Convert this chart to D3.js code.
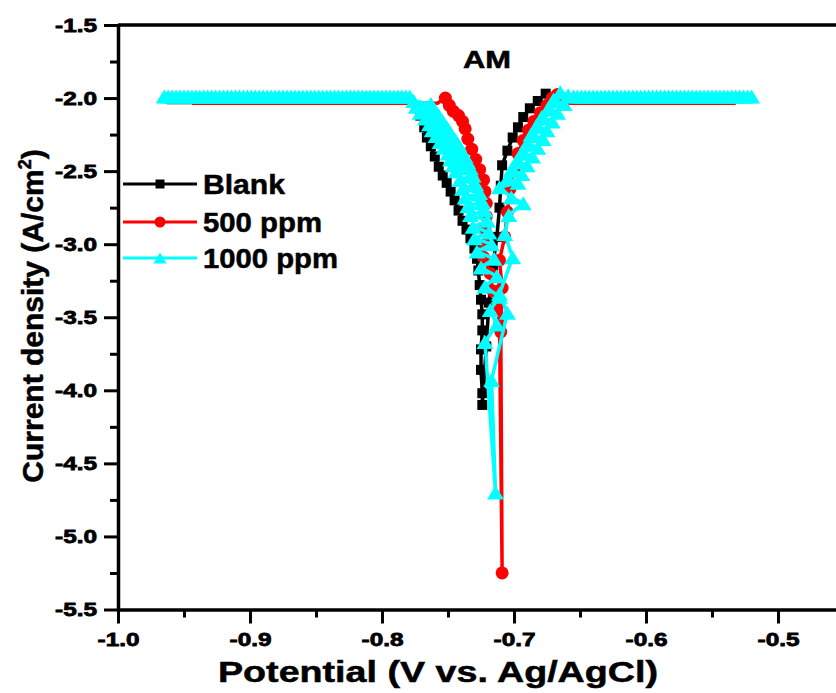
<!DOCTYPE html>
<html>
<head>
<meta charset="utf-8">
<script src="https://cdn.jsdelivr.net/npm/d3@7"></script>
<style>
  body { margin: 0; background: #fff; }
  text { font-family: "Liberation Sans", Arial, sans-serif; font-weight: bold; fill: #000; stroke: #000; stroke-width: 0.5px; }
  .axis text { stroke-width: 0.8px; }
</style>
</head>
<body>
<div id="container"></div>
<script>
// [potential (V vs. Ag/AgCl), log current density]
const blank = [
  [-0.963,-2.03],[-0.957,-2.03],[-0.951,-2.03],[-0.945,-2.03],[-0.939,-2.03],[-0.933,-2.03],[-0.927,-2.03],[-0.921,-2.03],
  [-0.915,-2.03],[-0.909,-2.03],[-0.903,-2.03],[-0.897,-2.03],[-0.891,-2.03],[-0.885,-2.03],[-0.879,-2.03],[-0.873,-2.03],
  [-0.867,-2.03],[-0.861,-2.03],[-0.855,-2.03],[-0.849,-2.03],[-0.843,-2.03],[-0.837,-2.03],[-0.831,-2.03],[-0.825,-2.03],
  [-0.819,-2.03],[-0.813,-2.03],[-0.807,-2.03],[-0.801,-2.03],[-0.795,-2.03],[-0.789,-2.03],[-0.783,-2.03],[-0.778,-2.03],
  [-0.774,-2.06],[-0.771,-2.12],[-0.768,-2.20],[-0.766,-2.27],[-0.763,-2.33],[-0.760,-2.40],[-0.757,-2.47],[-0.754,-2.53],
  [-0.751,-2.58],[-0.748,-2.64],[-0.745,-2.70],[-0.742,-2.77],[-0.739,-2.84],[-0.736,-2.90],[-0.733,-2.96],[-0.730,-3.03],
  [-0.728,-3.10],[-0.727,-3.18],[-0.726,-3.28],[-0.725,-3.38],[-0.724,-3.48],[-0.724,-3.59],[-0.725,-3.72],[-0.725,-3.86],
  [-0.724,-4.02],[-0.724,-4.10],[-0.721,-3.70],[-0.719,-3.40],[-0.716,-3.15],[-0.713,-2.95],[-0.711,-2.75],[-0.710,-2.60],
  [-0.709,-2.46],[-0.705,-2.36],[-0.701,-2.27],[-0.697,-2.20],[-0.693,-2.13],[-0.688,-2.07],[-0.682,-2.02],[-0.676,-1.97],
  [-0.671,-2.03],
  [-0.665,-2.03],[-0.659,-2.03],[-0.653,-2.03],[-0.647,-2.03],[-0.641,-2.03],[-0.635,-2.03],[-0.629,-2.03],[-0.623,-2.03],
  [-0.617,-2.03],[-0.611,-2.03],[-0.605,-2.03],[-0.599,-2.03],[-0.593,-2.03],[-0.587,-2.03],[-0.581,-2.03],[-0.575,-2.03],
  [-0.569,-2.03],[-0.563,-2.03],[-0.557,-2.03],[-0.551,-2.03],[-0.545,-2.03],[-0.539,-2.03],[-0.533,-2.03]
];

const ppm500 = [
  [-0.944,-2.035],[-0.938,-2.035],[-0.932,-2.035],[-0.926,-2.035],[-0.920,-2.035],[-0.914,-2.035],[-0.908,-2.035],[-0.902,-2.035],
  [-0.896,-2.035],[-0.890,-2.035],[-0.884,-2.035],[-0.878,-2.035],[-0.872,-2.035],[-0.866,-2.035],[-0.860,-2.035],[-0.854,-2.035],
  [-0.848,-2.035],[-0.842,-2.035],[-0.836,-2.035],[-0.830,-2.035],[-0.824,-2.035],[-0.818,-2.035],[-0.812,-2.035],[-0.806,-2.035],
  [-0.800,-2.035],[-0.794,-2.035],[-0.788,-2.035],[-0.782,-2.035],[-0.776,-2.035],[-0.770,-2.035],[-0.764,-2.035],[-0.758,-2.035],
  [-0.752,-2.00],[-0.749,-2.05],[-0.746,-2.09],[-0.742,-2.12],[-0.739,-2.16],[-0.737,-2.21],[-0.735,-2.28],[-0.732,-2.35],
  [-0.729,-2.42],[-0.726,-2.49],[-0.723,-2.56],[-0.722,-2.64],[-0.721,-2.72],[-0.721,-2.81],[-0.722,-2.90],[-0.722,-3.00],
  [-0.723,-3.09],[-0.718,-3.20],[-0.716,-3.32],[-0.713,-3.42],[-0.711,-3.55],[-0.709,-5.25],[-0.710,-3.60],[-0.709,-3.30],
  [-0.711,-3.11],[-0.707,-2.95],[-0.705,-2.78],[-0.703,-2.62],[-0.700,-2.50],[-0.697,-2.38],[-0.693,-2.29],[-0.689,-2.22],
  [-0.685,-2.16],[-0.680,-2.10],[-0.675,-2.05],[-0.671,-2.00],[-0.667,-1.975],[-0.662,-2.035],
  [-0.656,-2.035],[-0.650,-2.035],[-0.644,-2.035],[-0.638,-2.035],[-0.632,-2.035],[-0.626,-2.035],[-0.620,-2.035],[-0.614,-2.035],
  [-0.608,-2.035],[-0.602,-2.035],[-0.596,-2.035],[-0.590,-2.035],[-0.584,-2.035],[-0.578,-2.035],[-0.572,-2.035],[-0.566,-2.035],
  [-0.560,-2.035],[-0.554,-2.035],[-0.548,-2.035],[-0.542,-2.035],[-0.536,-2.035],[-0.532,-2.035]
];

const ppm1000 = [
  [-0.965,-1.99],[-0.962,-1.99],[-0.959,-1.99],[-0.956,-1.99],[-0.953,-1.99],[-0.950,-1.99],[-0.947,-1.99],[-0.944,-1.99],
  [-0.941,-1.99],[-0.938,-1.99],[-0.935,-1.99],[-0.932,-1.99],[-0.929,-1.99],[-0.926,-1.99],[-0.923,-1.99],[-0.920,-1.99],
  [-0.917,-1.99],[-0.914,-1.99],[-0.911,-1.99],[-0.908,-1.99],[-0.905,-1.99],[-0.902,-1.99],[-0.899,-1.99],[-0.896,-1.99],
  [-0.893,-1.99],[-0.890,-1.99],[-0.887,-1.99],[-0.884,-1.99],[-0.881,-1.99],[-0.878,-1.99],[-0.875,-1.99],[-0.872,-1.99],
  [-0.869,-1.99],[-0.866,-1.99],[-0.863,-1.99],[-0.860,-1.99],[-0.857,-1.99],[-0.854,-1.99],[-0.851,-1.99],[-0.848,-1.99],
  [-0.845,-1.99],[-0.842,-1.99],[-0.839,-1.99],[-0.836,-1.99],[-0.833,-1.99],[-0.830,-1.99],[-0.827,-1.99],[-0.824,-1.99],
  [-0.821,-1.99],[-0.818,-1.99],[-0.815,-1.99],[-0.812,-1.99],[-0.809,-1.99],[-0.806,-1.99],[-0.803,-1.99],[-0.800,-1.99],
  [-0.797,-1.99],[-0.794,-1.99],[-0.791,-1.99],[-0.788,-1.99],[-0.785,-1.99],[-0.782,-1.99],[-0.779,-1.99],
  [-0.776,-2.02],[-0.763,-2.04],[-0.774,-2.06],[-0.760,-2.08],[-0.771,-2.10],[-0.757,-2.12],[-0.767,-2.14],[-0.754,-2.16],
  [-0.764,-2.18],[-0.751,-2.20],[-0.762,-2.22],[-0.748,-2.24],[-0.759,-2.26],[-0.745,-2.28],[-0.756,-2.30],[-0.742,-2.32],
  [-0.753,-2.34],[-0.740,-2.36],[-0.750,-2.38],[-0.737,-2.40],[-0.748,-2.42],[-0.735,-2.44],[-0.746,-2.46],[-0.733,-2.48],
  [-0.744,-2.50],[-0.731,-2.53],[-0.741,-2.56],[-0.729,-2.59],[-0.739,-2.62],[-0.726,-2.65],[-0.737,-2.68],[-0.724,-2.71],
  [-0.735,-2.74],[-0.722,-2.77],[-0.733,-2.80],[-0.720,-2.84],[-0.731,-2.88],[-0.719,-2.92],[-0.730,-2.96],[-0.717,-3.00],
  [-0.728,-3.05],[-0.715,-3.10],[-0.725,-3.16],[-0.713,-3.22],[-0.722,-3.29],[-0.711,-3.36],[-0.718,-3.45],[-0.713,-3.55],
  [-0.722,-3.67],[-0.714,-4.70],[-0.717,-3.93],
  [-0.705,-3.47],[-0.711,-3.34],[-0.701,-3.09],[-0.707,-2.93],[-0.704,-2.80],[-0.693,-2.72],[-0.702,-2.68],[-0.711,-2.61],
  [-0.697,-2.58],[-0.705,-2.55],[-0.694,-2.52],[-0.702,-2.49],[-0.690,-2.46],[-0.698,-2.43],[-0.686,-2.40],[-0.694,-2.37],
  [-0.682,-2.34],[-0.690,-2.31],[-0.678,-2.28],[-0.687,-2.25],[-0.675,-2.22],[-0.683,-2.19],[-0.671,-2.16],[-0.679,-2.13],
  [-0.667,-2.10],[-0.674,-2.07],[-0.662,-2.04],[-0.670,-2.01],[-0.659,-1.98],[-0.665,-1.96],
  [-0.655,-1.99],[-0.652,-1.99],[-0.649,-1.99],[-0.646,-1.99],[-0.643,-1.99],[-0.640,-1.99],[-0.637,-1.99],[-0.634,-1.99],
  [-0.631,-1.99],[-0.628,-1.99],[-0.625,-1.99],[-0.622,-1.99],[-0.619,-1.99],[-0.616,-1.99],[-0.613,-1.99],[-0.610,-1.99],
  [-0.607,-1.99],[-0.604,-1.99],[-0.601,-1.99],[-0.598,-1.99],[-0.595,-1.99],[-0.592,-1.99],[-0.589,-1.99],[-0.586,-1.99],
  [-0.583,-1.99],[-0.580,-1.99],[-0.577,-1.99],[-0.574,-1.99],[-0.571,-1.99],[-0.568,-1.99],[-0.565,-1.99],[-0.562,-1.99],
  [-0.559,-1.99],[-0.556,-1.99],[-0.553,-1.99],[-0.550,-1.99],[-0.547,-1.99],[-0.544,-1.99],[-0.541,-1.99],[-0.538,-1.99],
  [-0.535,-1.99],[-0.532,-1.99],[-0.529,-1.99],[-0.526,-1.99],[-0.523,-1.99],[-0.520,-1.99]
];

const seriesNames = ['Blank', '500 ppm', '1000 ppm'];
const seriesColors = ['#000000', '#ff0000', '#00ffff'];
// current-limit plateau of each run (no symbols drawn there for the first two)
const seriesPlateau = [-2.03, -2.035, null];

const xTicks = [-1.0, -0.9, -0.8, -0.7, -0.6, -0.5];
const xMinor = [-0.95, -0.85, -0.75, -0.65, -0.55];
const yTicks = [-1.5, -2.0, -2.5, -3.0, -3.5, -4.0, -4.5, -5.0, -5.5];
const yMinor = [-1.75, -2.25, -2.75, -3.25, -3.75, -4.25, -4.75, -5.25];

const svg = d3.select('#container')
  .append('svg')
    .attr('width', 836)
    .attr('height', 693);

const x = d3.scaleLinear().domain([-1.0, -0.45]).range([118, 844]);
const y = d3.scaleLinear().domain([-5.5, -1.5]).range([609.5, 25]);

// minor ticks
svg.append('g')
  .attr('transform', 'translate(0,' + y(-5.5) + ')')
  .call(d3.axisBottom(x).tickValues(xMinor).tickSize(8).tickFormat(''))
  .call(g => g.select('.domain').remove())
  .call(g => g.selectAll('line').attr('stroke-width', 3));

svg.append('g')
  .attr('transform', 'translate(' + x(-1.0) + ',0)')
  .call(d3.axisLeft(y).tickValues(yMinor).tickSize(8).tickFormat(''))
  .call(g => g.select('.domain').remove())
  .call(g => g.selectAll('line').attr('stroke-width', 3));

// major axes
const xAxis = svg.append('g')
  .attr('class', 'axis')
  .attr('transform', 'translate(0,' + y(-5.5) + ')')
  .call(d3.axisBottom(x).tickValues(xTicks).tickSize(14).tickSizeOuter(0).tickPadding(9)
          .tickFormat(d => d.toFixed(1)));

const yAxis = svg.append('g')
  .attr('class', 'axis')
  .attr('transform', 'translate(' + x(-1.0) + ',0)')
  .call(d3.axisLeft(y).tickValues(yTicks).tickSize(14).tickSizeOuter(0).tickPadding(7)
          .tickFormat(d => d.toFixed(1)));

[xAxis, yAxis].forEach(g => {
  g.select('.domain').attr('stroke-width', 3.5);
  g.selectAll('line').attr('stroke-width', 3);
  g.selectAll('text')
    .style('font-size', '19px')
    .attr('textLength', 42)
    .attr('lengthAdjust', 'spacingAndGlyphs');
});

// top frame
svg.append('line')
  .attr('x1', x(-1.0)).attr('x2', x(-0.45))
  .attr('y1', y(-1.5)).attr('y2', y(-1.5))
  .attr('stroke', '#000').attr('stroke-width', 3.5);

// symbols
const triangle = 'M0,-7L8.5,7L-8.5,7Z';
function drawSymbol(g, i, px, py, legend) {
  if (i === 0) {
    const s = legend ? 9 : 10;
    g.append('rect').attr('x', px - s / 2).attr('y', py - s / 2)
      .attr('width', s).attr('height', s).attr('fill', seriesColors[i]);
  } else if (i === 1) {
    g.append('circle').attr('cx', px).attr('cy', py).attr('r', legend ? 5.5 : 6.5)
      .attr('fill', seriesColors[i]);
  } else {
    g.append('path').attr('d', triangle)
      .attr('transform', 'translate(' + px + ',' + py + ')' + (legend ? ' scale(0.78)' : ''))
      .attr('fill', seriesColors[i]);
  }
}

const line = d3.line().x(d => x(d[0])).y(d => y(d[1]));

[blank, ppm500, ppm1000].forEach((data, i) => {
  const g = svg.append('g').attr('class', 'series');
  g.append('path')
    .datum(data)
    .attr('d', line)
    .attr('fill', 'none')
    .attr('stroke', seriesColors[i])
    .attr('stroke-width', 3.5)
    .attr('stroke-linejoin', 'round');
  data.forEach(d => {
    if (seriesPlateau[i] !== null && Math.abs(d[1] - seriesPlateau[i]) < 0.001) return;
    drawSymbol(g, i, x(d[0]), y(d[1]), false);
  });
});

// title
svg.append('text')
  .attr('x', 487).attr('y', 68)
  .attr('text-anchor', 'middle')
  .attr('textLength', 48).attr('lengthAdjust', 'spacingAndGlyphs')
  .style('font-size', '23px')
  .text('AM');

// legend
const legendY = [184, 222, 258];
const legendLen = [82, 119, 135];
seriesNames.forEach((name, i) => {
  const g = svg.append('g').attr('class', 'legend');
  g.append('line')
    .attr('x1', 123).attr('x2', 197)
    .attr('y1', legendY[i]).attr('y2', legendY[i])
    .attr('stroke', seriesColors[i]).attr('stroke-width', 3);
  drawSymbol(g, i, 160, legendY[i], true);
  g.append('text')
    .attr('x', 203).attr('y', legendY[i] + 9.5)
    .attr('textLength', legendLen[i]).attr('lengthAdjust', 'spacingAndGlyphs')
    .style('font-size', '27px')
    .text(name);
});

// axis titles
svg.append('text')
  .attr('x', 438).attr('y', 682)
  .attr('text-anchor', 'middle')
  .attr('textLength', 440).attr('lengthAdjust', 'spacingAndGlyphs')
  .style('font-size', '29px')
  .text('Potential (V vs. Ag/AgCl)');

const yTitle = svg.append('text')
  .attr('transform', 'translate(43,316) rotate(-90)')
  .attr('text-anchor', 'middle')
  .style('font-size', '30px');
yTitle.append('tspan').text('Current density (A/cm');
yTitle.append('tspan').text('2').style('font-size', '18px').attr('dy', -12);
yTitle.append('tspan').text(')').attr('dy', 12);
</script>
</body>
</html>
